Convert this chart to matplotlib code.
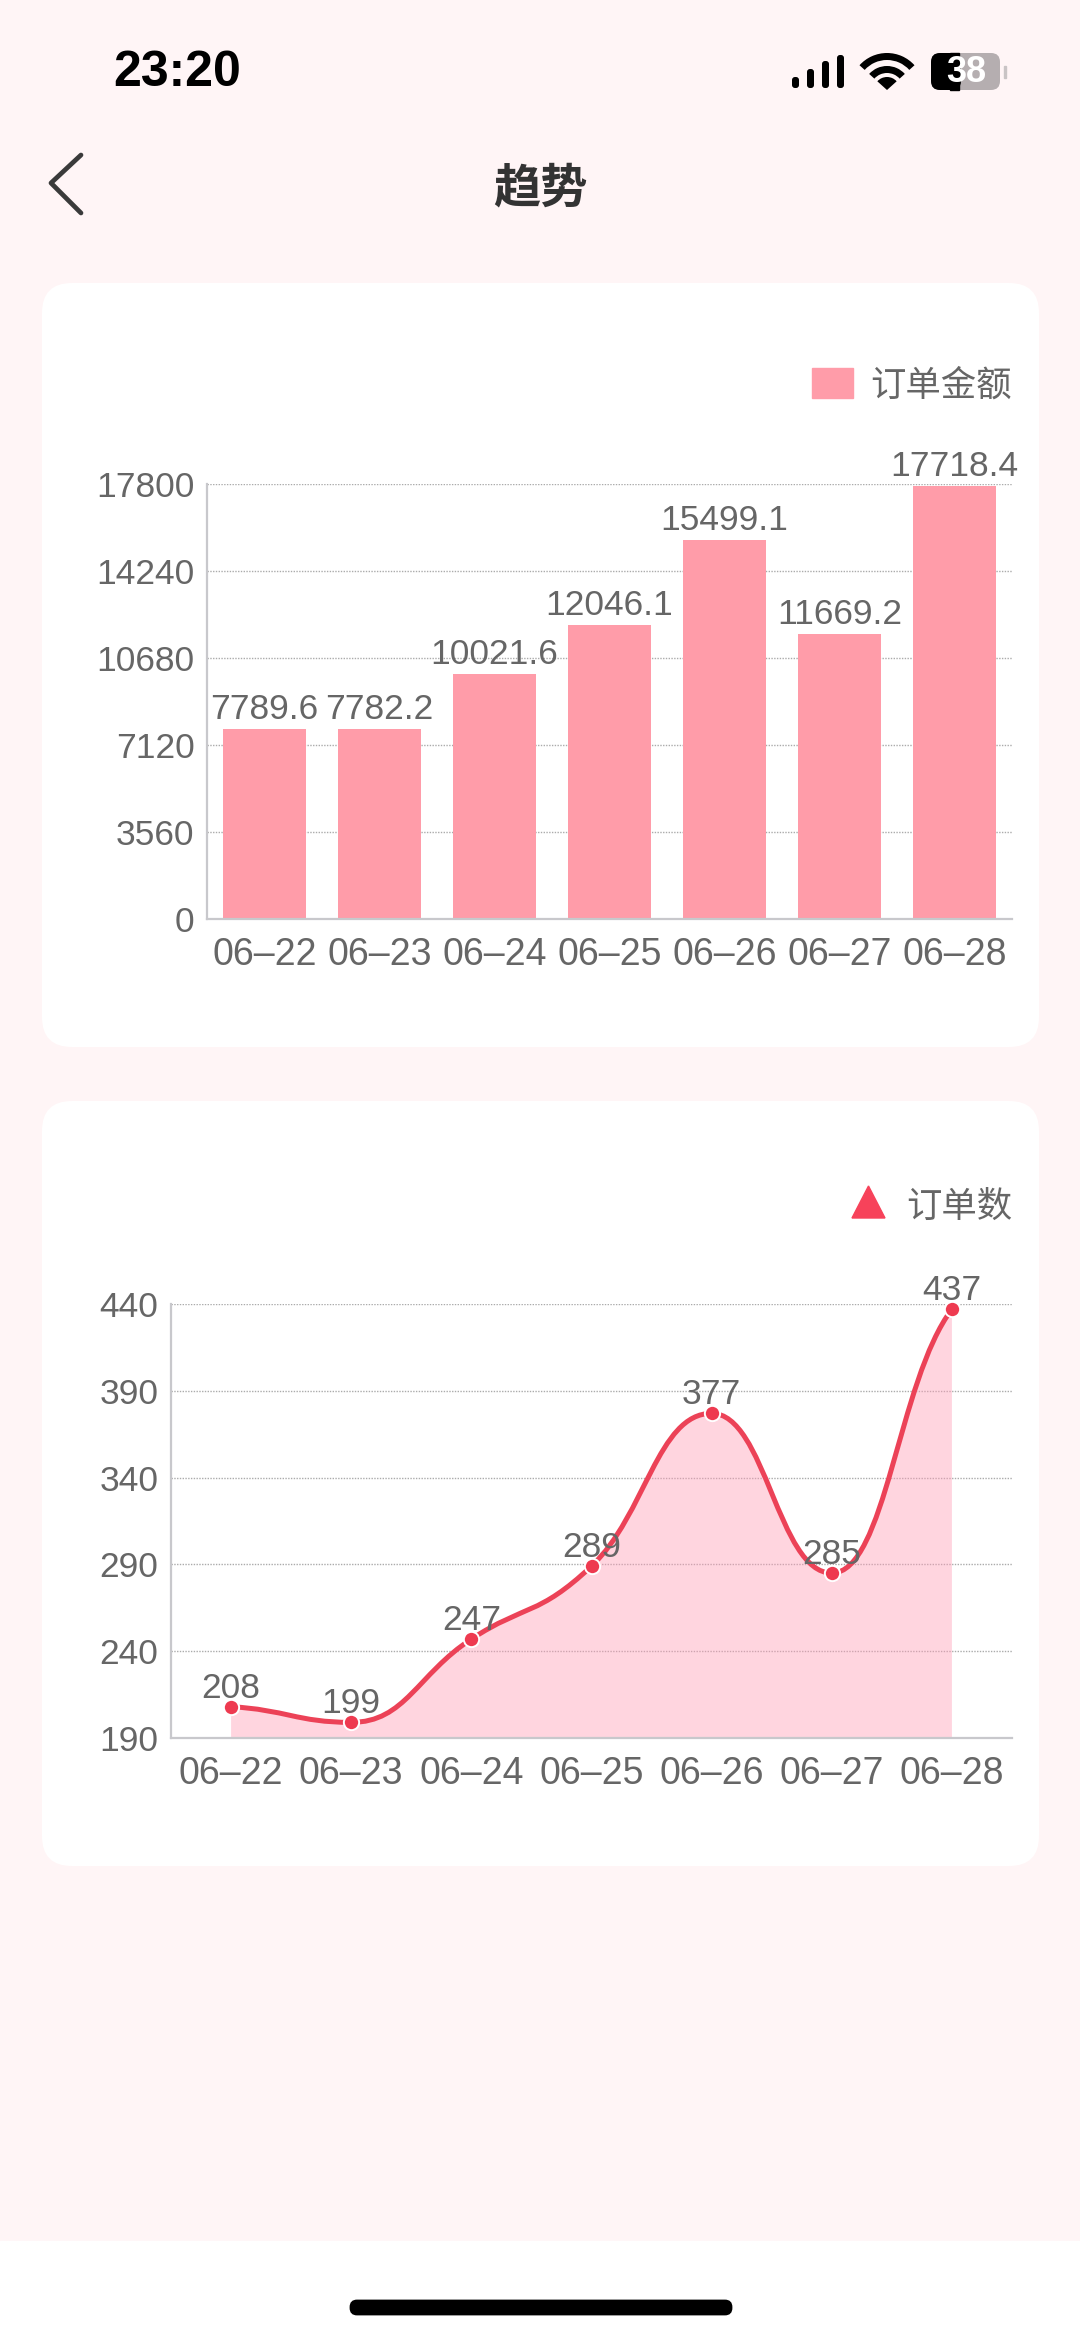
import matplotlib
matplotlib.use("Agg")
import matplotlib.pyplot as plt
from matplotlib.patches import FancyBboxPatch, PathPatch, Polygon, Rectangle, Wedge
from matplotlib.path import Path

W, H = 1080, 2337
LATIN = "Liberation Sans"
FONTS = [LATIN, "Noto Sans CJK SC", "DejaVu Sans"]
plt.rcParams["font.family"] = FONTS

dates = ["06–22", "06–23", "06–24", "06–25", "06–26", "06–27", "06–28"]
amounts = [7789.6, 7782.2, 10021.6, 12046.1, 15499.1, 11669.2, 17718.4]
amount_labels = ["7789.6", "7782.2", "10021.6", "12046.1", "15499.1", "11669.2", "17718.4"]
amount_ticks = [0, 3560, 7120, 10680, 14240, 17800]
orders = [208, 199, 247, 289, 377, 285, 437]
order_ticks = [190, 240, 290, 340, 390, 440]

BG = "#FFF5F6"
TEXT = "#666666"
BAR = "#FF9CA9"
LINE = "#EC4257"
FILL = "#FF9CB5"
GRID = "#ABABAB"
AXIS = "#C8C8CC"
TICK_SIZE = 25.5


def px_axes(fig, left, top, right, bottom):
    return fig.add_axes([left / W, 1 - bottom / H, (right - left) / W, (bottom - top) / H])


def style_axes(ax, ticks, labels):
    ax.patch.set_alpha(0)
    ax.set_xlim(-0.5, len(labels) - 0.5)
    ax.set_ylim(ticks[0], ticks[-1])
    ax.set_xticks(range(len(labels)), labels)
    ax.set_yticks(ticks)
    ax.tick_params(length=0, labelsize=TICK_SIZE, labelcolor=TEXT)
    ax.tick_params(axis="x", pad=13, labelsize=27)
    ax.tick_params(axis="y", pad=9)
    ax.spines[["top", "right"]].set_visible(False)
    ax.spines[["left", "bottom"]].set_color(AXIS)
    ax.spines[["left", "bottom"]].set_linewidth(1.6)
    ax.grid(axis="y", color=GRID, linestyle=(0, (1, 1)), linewidth=1)
    ax.set_axisbelow(True)


def smooth_path(values):
    # flat tangent at local peaks and dips, catmull-rom elsewhere
    n = len(values)
    slopes = []
    for i in range(n):
        if i == 0:
            slopes.append((values[1] - values[0]) * 0.4)
        elif i == n - 1:
            slopes.append((values[-1] - values[-2]) * 0.6)
        elif (values[i] - values[i - 1]) * (values[i + 1] - values[i]) <= 0:
            slopes.append(0)
        else:
            slopes.append((values[i + 1] - values[i - 1]) / 2)
    verts = [(0, values[0])]
    codes = [Path.MOVETO]
    for i in range(n - 1):
        verts += [
            (i + 0.45, values[i] + slopes[i] * 0.45),
            (i + 0.55, values[i + 1] - slopes[i + 1] * 0.45),
            (i + 1, values[i + 1]),
        ]
        codes += [Path.CURVE4] * 3
    return verts, codes


fig = plt.figure(figsize=(W / 100, H / 100), dpi=100, facecolor=BG)

# page, cards and phone chrome, in pixel coordinates
page = fig.add_axes([0, 0, 1, 1])
page.set_xlim(0, W)
page.set_ylim(H, 0)
page.axis("off")
page.add_patch(Rectangle((0, 2241), W, H - 2241, color="white"))
for top, bottom in [(283, 1047), (1101, 1866)]:
    page.add_patch(FancyBboxPatch((72, top + 30), 967 - 30, bottom - top - 60,
                                  boxstyle="round,pad=30,rounding_size=30", fc="white", ec="none"))
page.add_patch(FancyBboxPatch((351, 2301), 380, 13, boxstyle="round,pad=0,rounding_size=6",
                              fc="black", ec="black", lw=2))

page.text(177, 73, "23:20", fontsize=36, fontweight="bold", color="black", ha="center", va="center")
for x, top in zip([792, 807, 822, 837], [77, 69, 61, 55]):
    page.add_patch(FancyBboxPatch((x, top), 7, 88 - top, boxstyle="round,pad=0,rounding_size=3",
                                  fc="black", ec="none"))
for outer, width in [(37, 7), (24, 7)]:
    page.add_patch(Wedge((887, 90), outer, 222, 318, width=width, fc="black", ec="none"))
page.add_patch(Wedge((887, 90), 13, 222, 318, fc="black", ec="none"))
page.add_patch(FancyBboxPatch((931, 53), 69, 37, boxstyle="round,pad=0,rounding_size=9",
                              fc="#B5AEB0", ec="none"))
page.add_patch(FancyBboxPatch((931, 53), 30, 37, boxstyle="round,pad=0,rounding_size=9",
                              fc="black", ec="none"))
page.add_patch(Rectangle((950, 53), 9, 37, color="black"))
page.add_patch(Rectangle((1004, 66), 2, 12, color="#C9C4C5"))
page.text(966, 72, "38", fontsize=26, fontweight="bold", color="white", ha="center", va="center")

page.plot([81, 51, 81], [155, 183, 213], color="#3A3A3A", lw=3.4, solid_capstyle="round",
          solid_joinstyle="round")
page.text(540, 190, "趋势", fontsize=34, fontweight="bold", color="#333333", ha="center", va="center")

page.add_patch(Rectangle((812, 368), 41, 30, color=BAR))
page.text(1012, 386, "订单金额", fontsize=25.5, color=TEXT, ha="right", va="center")
page.add_patch(Polygon([(852, 1218), (885, 1218), (868.5, 1186)], color="#F7425A"))
page.text(1012, 1207, "订单数", fontsize=25.5, color=TEXT, ha="right", va="center")

# order amount bars
ax1 = px_axes(fig, 207, 484, 1012, 919)
style_axes(ax1, amount_ticks, dates)
ax1.bar(range(len(dates)), amounts, width=0.72, color=BAR)
for i, (value, label) in enumerate(zip(amounts, amount_labels)):
    ax1.annotate(label, (i, value), xytext=(0, 23), textcoords="offset pixels", ha="center",
                 va="center_baseline", fontsize=TICK_SIZE, color=TEXT, annotation_clip=False)

# order count line
ax2 = px_axes(fig, 171, 1304, 1012, 1738)
style_axes(ax2, order_ticks, dates)
verts, codes = smooth_path(orders)
area_verts = verts + [(len(orders) - 1, order_ticks[0]), (0, order_ticks[0]), verts[0]]
area_codes = codes + [Path.LINETO, Path.LINETO, Path.CLOSEPOLY]
ax2.add_patch(PathPatch(Path(area_verts, area_codes), fc=FILL, ec="none", alpha=0.42, zorder=2))
ax2.add_patch(PathPatch(Path(verts, codes), fc="none", ec=LINE, lw=3.6, zorder=3))
ax2.plot(range(len(orders)), orders, linestyle="none", marker="o", markersize=11,
         markerfacecolor="#EE3A50", markeredgecolor="white", markeredgewidth=1.4, zorder=4,
         clip_on=False)
for i, value in enumerate(orders):
    ax2.annotate(str(value), (i, value), xytext=(0, 22), textcoords="offset pixels", ha="center",
                 va="center_baseline", fontsize=TICK_SIZE, color=TEXT, annotation_clip=False, zorder=5)

fig.savefig("out.png", dpi=100, facecolor=BG)
